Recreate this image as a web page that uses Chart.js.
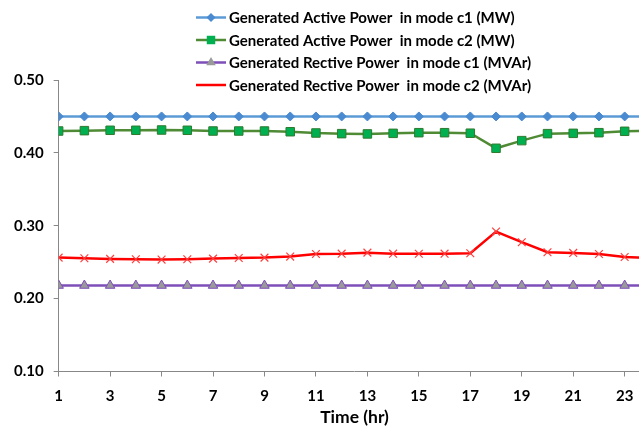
<!DOCTYPE html>
<html>
<head>
<meta charset="utf-8">
<script src="https://cdn.jsdelivr.net/npm/chart.js@4.4.0/dist/chart.umd.min.js"></script>
<style>
  html, body { margin: 0; padding: 0; background: #fff; overflow: hidden; width: 639px; height: 433px; }
  #wrap { width: 680px; height: 433px; position: relative; }
</style>
</head>
<body>
<div id="wrap"><canvas id="chart"></canvas></div>
<script>
var hours = [1, 2, 3, 4, 5, 6, 7, 8, 9, 10, 11, 12, 13, 14, 15, 16, 17, 18, 19, 20, 21, 22, 23, 24]
var xTickLabels = [1, 3, 5, 7, 9, 11, 13, 15, 17, 19, 21, 23]
var yTickLabels = [0.10, 0.20, 0.30, 0.40, 0.50]

var activeC1 = [0.450, 0.450, 0.450, 0.450, 0.450, 0.450, 0.450, 0.450, 0.450, 0.450, 0.450, 0.450,
  0.450, 0.450, 0.450, 0.450, 0.450, 0.450, 0.450, 0.450, 0.450, 0.450, 0.450, 0.450]
var activeC2 = [0.430, 0.4305, 0.431, 0.431, 0.4314, 0.431, 0.430, 0.430, 0.430, 0.429, 0.4273, 0.4264,
  0.426, 0.4268, 0.4277, 0.4277, 0.427, 0.4063, 0.4168, 0.4264, 0.4268, 0.4277, 0.4296, 0.4305]
var reactiveC1 = [0.218, 0.218, 0.218, 0.218, 0.218, 0.218, 0.218, 0.218, 0.218, 0.218, 0.218, 0.218,
  0.218, 0.218, 0.218, 0.218, 0.218, 0.218, 0.218, 0.218, 0.218, 0.218, 0.218, 0.218]
var reactiveC2 = [0.2563, 0.2554, 0.2545, 0.254, 0.2536, 0.254, 0.2549, 0.2558, 0.2563, 0.2577, 0.2613, 0.2617,
  0.2631, 0.2617, 0.2615, 0.2617, 0.2622, 0.292, 0.2774, 0.2636, 0.2627, 0.2613, 0.2572, 0.2558]

var seriesNames = [
  'Generated Active Power  in mode c1 (MW)',
  'Generated Active Power  in mode c2 (MW)',
  'Generated Rective Power  in mode c1 (MVAr)',
  'Generated Rective Power  in mode c2 (MVAr)'
]

Chart.defaults.font.family = 'Lato'
Chart.defaults.font.weight = 'bold'
Chart.defaults.color = '#000'

// legend drawn as line + marker, like the spreadsheet one
const lineLegend = {
  id: 'lineLegend',
  afterDraw(chart) {
    const ctx = chart.ctx
    ctx.save()
    chart.data.datasets.forEach((ds, i) => {
      const y = 17.5 + i * 22.5
      ctx.strokeStyle = ds.borderColor
      ctx.lineWidth = ds.borderWidth
      ctx.beginPath()
      ctx.moveTo(196, y)
      ctx.lineTo(226, y)
      ctx.stroke()
      ctx.fillStyle = ds.pointBackgroundColor
      ctx.strokeStyle = ds.pointBorderColor
      ctx.lineWidth = ds.pointBorderWidth
      Chart.helpers.drawPoint(ctx, { pointStyle: ds.pointStyle, radius: ds.pointRadius, rotation: 0 }, 211, y)
      ctx.fillStyle = '#000'
      ctx.font = 'bold 15px Lato'
      ctx.textBaseline = 'middle'
      ctx.textAlign = 'left'
      ctx.fillText(ds.label, 229, y + 1)
    })
    ctx.restore()
  }
}

const ctx = document.getElementById('chart')

new Chart(ctx, {
  type: 'line',
  data: {
    labels: hours,
    datasets: [{
      label: seriesNames[0],
      data: activeC1,
      borderColor: '#5b9bd5',
      borderWidth: 2.5,
      pointStyle: 'rectRot',
      pointRadius: 4.5,
      pointBackgroundColor: '#4a8ad0',
      pointBorderColor: '#4a8ad0',
      pointBorderWidth: 1
    }, {
      label: seriesNames[1],
      data: activeC2,
      borderColor: '#4f8a34',
      borderWidth: 2.5,
      pointStyle: 'rect',
      pointRadius: 6,
      pointBackgroundColor: '#00b050',
      pointBorderColor: '#2f7a2f',
      pointBorderWidth: 1
    }, {
      label: seriesNames[2],
      data: reactiveC1,
      borderColor: '#7e4fb8',
      borderWidth: 2.5,
      pointStyle: 'triangle',
      pointRadius: 5.5,
      pointBackgroundColor: '#9a9a9a',
      pointBorderColor: '#7e4fb8',
      pointBorderWidth: 1
    }, {
      label: seriesNames[3],
      data: reactiveC2,
      borderColor: '#ff0000',
      borderWidth: 2.5,
      pointStyle: 'crossRot',
      pointRadius: 5.5,
      pointBackgroundColor: '#ff4040',
      pointBorderColor: '#ff4040',
      pointBorderWidth: 1.2
    }]
  },
  options: {
    responsive: true,
    maintainAspectRatio: false,
    animation: false,
    layout: { padding: { left: 4, right: 29.6, top: 80, bottom: 5.5 } },
    plugins: {
      legend: { display: false },
      tooltip: { enabled: false }
    },
    elements: { line: { tension: 0 } },
    scales: {
      x: {
        type: 'linear',
        min: 1,
        max: 24,
        afterBuildTicks: (scale) => {
          scale.ticks = xTickLabels.map(v => ({ value: v }))
        },
        grid: { drawOnChartArea: false, tickLength: 5, color: '#888' },
        border: { color: '#888', width: 1 },
        ticks: { padding: 11, font: { size: 15, weight: 'bold' }, maxRotation: 0, autoSkip: false },
        title: {
          display: true,
          text: 'Time (hr)',
          font: { size: 17.5, weight: 'bold' },
          padding: { top: -10, bottom: 0 }
        }
      },
      y: {
        min: 0.1,
        max: 0.5,
        afterBuildTicks: (scale) => {
          scale.ticks = yTickLabels.map(v => ({ value: v }))
        },
        grid: { drawOnChartArea: false, tickLength: 5, color: '#888' },
        border: { color: '#888', width: 1 },
        ticks: {
          padding: 10,
          font: { size: 15, weight: 'bold' },
          callback: (v) => Number(v).toFixed(2)
        }
      }
    }
  },
  plugins: [lineLegend]
})
</script>
</body>
</html>
